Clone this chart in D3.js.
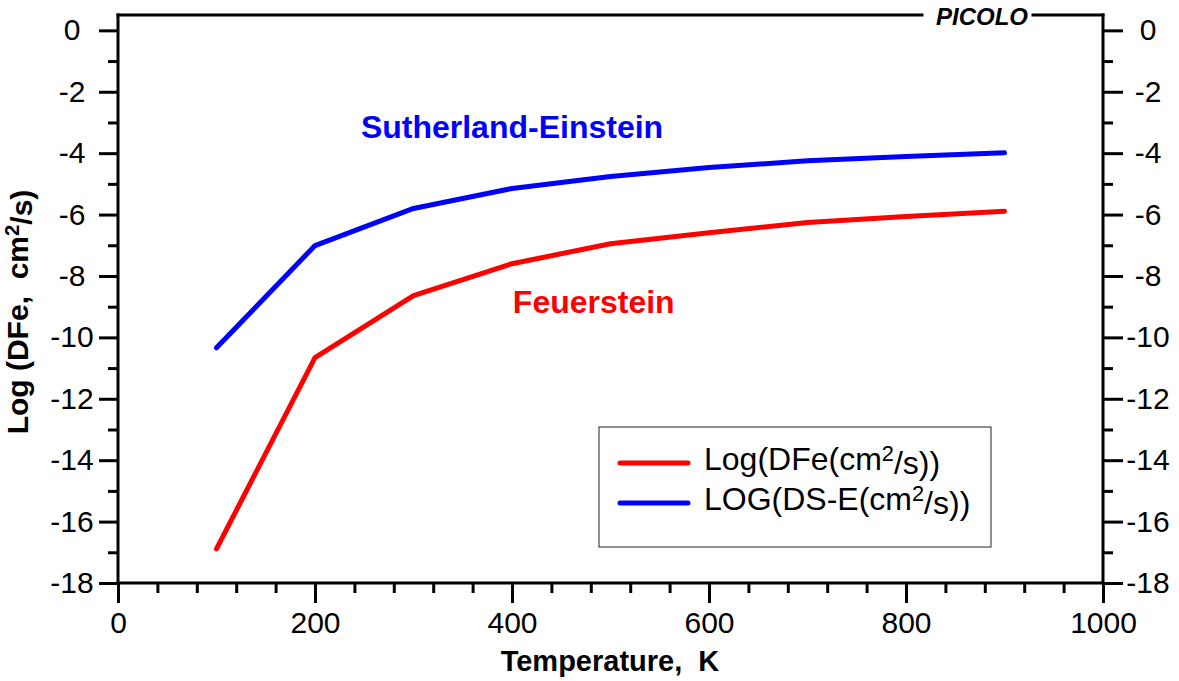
<!DOCTYPE html>
<html>
<head>
<meta charset="utf-8">
<script src="https://cdn.jsdelivr.net/npm/d3@7"></script>
<style>
  html, body { margin: 0; padding: 0; background: #ffffff; }
  text { font-family: 'Liberation Sans', Arial, sans-serif; }
</style>
</head>
<body>
<div id="graf"></div>
<script>
// Log D vs temperature (PICOLO)

// datos
temps   = [100, 200, 300, 400, 500, 600, 700, 800, 900]
logDFe  = [-16.89, -10.66, -8.64, -7.60, -6.95, -6.59, -6.26, -6.06, -5.89]
logDSE  = [-10.34, -7.01, -5.80, -5.15, -4.76, -4.47, -4.25, -4.11, -3.99]
xTicks  = [0, 200, 400, 600, 800, 1000]
yTicks  = [0, -2, -4, -6, -8, -10, -12, -14, -16, -18]
series  = ['Log(DFe(cm|2|/s))', 'LOG(DS-E(cm|2|/s))']
colores = ['#ff0000', '#0000ff']

ancho_total = 1179
alto_total  = 681
margins = { top: 15, left: 118, right: 76, bottom: 98 }
ancho = ancho_total - margins.left - margins.right
alto  = alto_total - margins.top - margins.bottom

svg = d3.select('#graf').append('svg')
        .attr('width', ancho_total)
        .attr('height', alto_total)

g = svg.append('g')
       .attr('transform', `translate(${margins.left}, ${margins.top})`)

x = d3.scaleLinear().domain([0, 1000]).range([0, ancho])
y = d3.scaleLinear().domain([-18, 0.5]).range([alto, 0])

// minor ticks
minX = d3.range(40, 1000, 40).filter(d => d % 200 != 0)
minY = d3.range(-17, 0.5, 2)

function estilo(sel) {
  sel.select('.domain').remove()
  sel.selectAll('line').attr('stroke', '#000').attr('stroke-width', 3)
  sel.selectAll('text').attr('fill', '#000').style('font-size', '30px')
}

// eje X
g.append('g')
  .attr('transform', `translate(0, ${alto})`)
  .call(d3.axisBottom(x).tickValues(xTicks).tickSize(20).tickPadding(9).tickFormat(d => String(d)))
  .call(estilo)
g.append('g')
  .attr('transform', `translate(0, ${alto})`)
  .call(d3.axisBottom(x).tickValues(minX).tickSize(10).tickFormat(''))
  .call(estilo)

// eje Y izquierdo
yl = g.append('g')
  .call(d3.axisLeft(y).tickValues(yTicks).tickSize(19).tickFormat(d => String(d)))
  .call(estilo)
yl.selectAll('text').attr('text-anchor', 'middle').attr('x', -46)
g.append('g')
  .call(d3.axisLeft(y).tickValues(minY).tickSize(10).tickFormat(''))
  .call(estilo)

// eje Y derecho
yr = g.append('g')
  .attr('transform', `translate(${ancho}, 0)`)
  .call(d3.axisRight(y).tickValues(yTicks).tickSize(20).tickFormat(d => String(d)))
  .call(estilo)
yr.selectAll('text').attr('text-anchor', 'middle').attr('x', 45)
g.append('g')
  .attr('transform', `translate(${ancho}, 0)`)
  .call(d3.axisRight(y).tickValues(minY).tickSize(10).tickFormat(''))
  .call(estilo)

// marco (top with gap for PICOLO)
marco = g.append('g')
         .attr('stroke', '#000')
         .attr('stroke-width', 3)
         .attr('stroke-linecap', 'square')
         .attr('fill', 'none')
marco.append('line').attr('x1', 0).attr('x2', 0).attr('y1', 0).attr('y2', alto)
marco.append('line').attr('x1', ancho).attr('x2', ancho).attr('y1', 0).attr('y2', alto)
marco.append('line').attr('x1', 0).attr('x2', ancho).attr('y1', alto).attr('y2', alto)
marco.append('line').attr('x1', 0).attr('x2', 804).attr('y1', 0).attr('y2', 0)
marco.append('line').attr('x1', 915).attr('x2', ancho).attr('y1', 0).attr('y2', 0)

g.append('text')
  .attr('x', 864)
  .attr('y', 10)
  .attr('text-anchor', 'middle')
  .style('font-size', '24px')
  .style('font-weight', 'bold')
  .style('font-style', 'italic')
  .text('PICOLO')

// lineas
lineaGen = d3.line()
             .x(d => x(d[0]))
             .y(d => y(d[1]))

;[logDFe, logDSE].forEach((serie, i) => {
  g.append('path')
    .datum(temps.map((t, j) => [t, serie[j]]))
    .attr('fill', 'none')
    .attr('stroke', colores[i])
    .attr('stroke-width', 5)
    .attr('stroke-linecap', 'round')
    .attr('stroke-linejoin', 'round')
    .attr('d', lineaGen)
})

// etiquetas de las curvas
g.append('text')
  .attr('x', x(400)).attr('y', y(-3.49))
  .attr('text-anchor', 'middle')
  .attr('fill', '#0000ff')
  .style('font-size', '32px').style('font-weight', 'bold')
  .text('Sutherland-Einstein')
g.append('text')
  .attr('x', x(483)).attr('y', y(-9.19))
  .attr('text-anchor', 'middle')
  .attr('fill', '#ff0000')
  .style('font-size', '32px').style('font-weight', 'bold')
  .text('Feuerstein')

// texto con superindice
function superText(sel, s) {
  parts = s.split('|')
  sel.append('tspan').text(parts[0])
  sel.append('tspan').attr('dy', '-0.42em').style('font-size', '0.68em').text(parts[1])
  sel.append('tspan').attr('dy', '0.42em').text(parts[2])
}

// leyenda
leg = svg.append('g').attr('transform', 'translate(599, 427)')
leg.append('rect')
   .attr('width', 392).attr('height', 120)
   .attr('fill', '#fff').attr('stroke', '#222').attr('stroke-width', 1)
series.forEach((s, i) => {
  leg.append('line')
     .attr('x1', 21).attr('x2', 89)
     .attr('y1', 36 + i * 40).attr('y2', 36 + i * 40)
     .attr('stroke', colores[i]).attr('stroke-width', 5).attr('stroke-linecap', 'round')
  t = leg.append('text')
     .attr('x', 105).attr('y', 43 + i * 40)
     .style('font-size', '32px')
  superText(t, s)
})

// titulos de ejes
svg.append('text')
   .attr('x', 610).attr('y', 671)
   .attr('text-anchor', 'middle')
   .style('font-size', '29px').style('font-weight', 'bold')
   .text('Temperature,\u00a0\u00a0K')

yt = svg.append('text')
   .attr('transform', 'translate(28, 312) rotate(-90)')
   .attr('text-anchor', 'middle')
   .style('font-size', '30px').style('font-weight', 'bold')
superText(yt, 'Log (DFe,\u00a0\u00a0cm|2|/s)')
</script>
</body>
</html>
